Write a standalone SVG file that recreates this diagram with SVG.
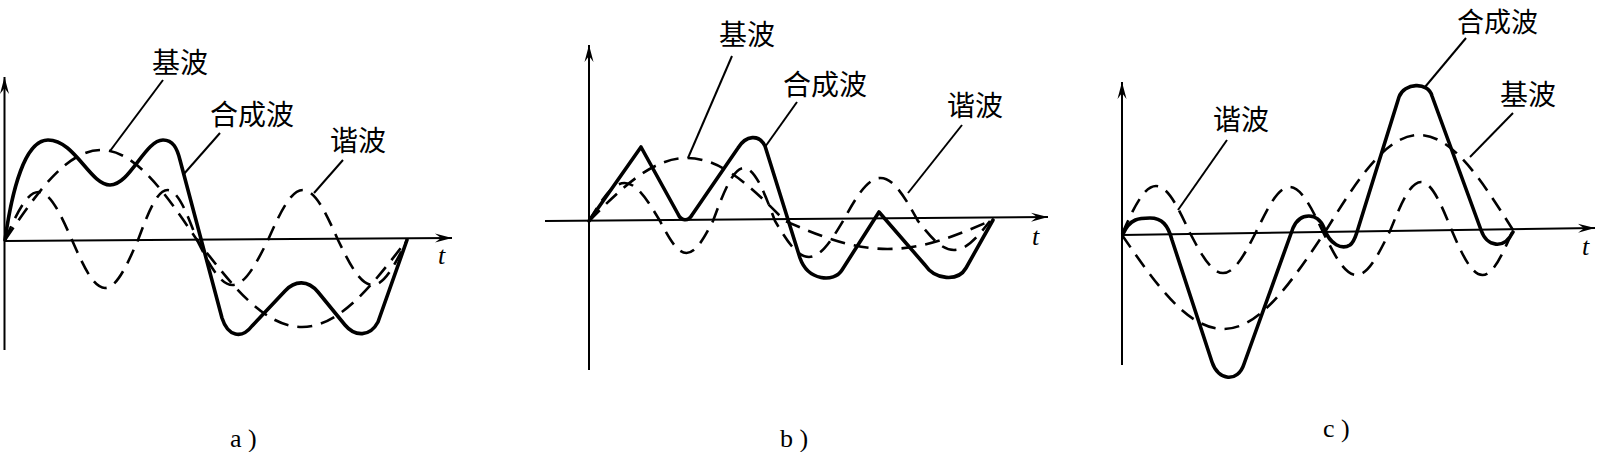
<svg xmlns="http://www.w3.org/2000/svg" width="1605" height="452" viewBox="0 0 1605 452">
<defs>
<marker id="arr" markerUnits="userSpaceOnUse" markerWidth="20" markerHeight="12" viewBox="-18 -6 20 12" refX="0" refY="0" orient="auto">
<path d="M0,0 L-17,-4.5 L-11,0 L-17,4.5 Z" fill="#000"/>
</marker>
</defs>
<style>
.ax{stroke:#000;stroke-width:2;fill:none}
.cw{stroke:#000;stroke-width:3.6;fill:none;stroke-linejoin:round;stroke-linecap:round}
.dw{stroke:#000;stroke-width:2.6;fill:none;stroke-dasharray:15 9}
.ld{stroke:#000;stroke-width:2;fill:none}
.cj{font-family:"Noto Sans CJK SC","Noto Sans CJK JP",sans-serif;font-size:28px;fill:#000}
.tt{font-family:"Liberation Serif",serif;font-style:italic;font-size:26px;fill:#000}
.lb{font-family:"Liberation Serif",serif;font-size:26px;fill:#000}
</style>
<rect width="1605" height="452" fill="#fff"/>

<g id="panel-a">
<g id="a-axes">
<line class="ax" x1="4.5" y1="350" x2="4.5" y2="77" marker-end="url(#arr)"/>
<line class="ax" x1="4" y1="241" x2="452" y2="238" marker-end="url(#arr)"/>
<text class="tt" x="438" y="264">t</text>
</g>
<g id="a-fundamental">
<path class="dw" d="M5,240 C36.3,193.9 66.3,150 101,150 C135.7,150 165.7,193.9 197,240 C231.2,284.6 264,327 302,327 C340,327 372.8,284.6 407,240"/>
</g>
<g id="a-harmonic">
<path class="dw" d="M5,240 C15.9,215.4 26.4,192 38.5,192 C50.6,192 61.1,215.4 72,240 C82.8,264.6 93.1,288 105,288 C116.9,288 127.2,264.6 138,240 C147.6,214.4 156.8,190 167.5,190 C178.2,190 187.4,214.4 197,240 C208.6,263.1 219.7,285 232.5,285 C245.3,285 256.4,263.1 268,240 C279.4,214.4 290.3,190 303,190 C315.7,190 326.6,214.4 338,240 C349.3,263.1 360,285 372.5,285 C385,285 395.7,263.1 407,240"/>
</g>
<g id="a-composite">
<path class="cw" d="M5,240 C12,190 25,140 48,140 C75,140 90,185 110,185 C130,185 145,140 163,140 C173,140 177,148 180,160 L222,318 C228,337 242,339 252,326 L285,291 C295,280 308,280 318,292 L345,325 C355,337 370,337 378,322 L407,240"/>
</g>
<g id="a-labels">
<line class="ld" x1="163" y1="80" x2="110" y2="151"/>
<text class="cj" x="152" y="73">基波</text>
<line class="ld" x1="220" y1="133" x2="183" y2="175"/>
<text class="cj" x="210" y="125">合成波</text>
<line class="ld" x1="343" y1="160" x2="314" y2="193"/>
<text class="cj" x="330" y="151">谐波</text>
</g>
<text class="lb" x="230" y="447">a )</text>
</g>

<g id="panel-b">
<g id="b-axes">
<line class="ax" x1="589" y1="370" x2="589" y2="45" marker-end="url(#arr)"/>
<line class="ax" x1="545" y1="221" x2="1048" y2="217" marker-end="url(#arr)"/>
<text class="tt" x="1032" y="245">t</text>
</g>
<g id="b-fundamental">
<path class="dw" d="M589,221 C621,188.7 651.5,158 687,158 C722.5,158 753,188.7 785,221 C818.4,235.3 850.4,249 887.5,249 C924.6,249 956.6,235.3 990,221"/>
</g>
<g id="b-harmonic">
<path class="dw" d="M589,221 C600.6,201.5 611.7,183 624.5,183 C637.3,183 648.4,201.5 660,221 C668.6,237.4 676.9,253 686.5,253 C696.1,253 704.4,237.4 713,221 C723.1,193.8 732.8,168 744,168 C755.2,168 764.9,193.8 775,221 C786.1,239.4 796.7,257 809,257 C821.3,257 831.9,239.4 843,221 C855.2,199 866.9,178 880.5,178 C894.1,178 905.8,199 918,221 C929.7,235.9 941,250 954,250 C967,250 978.3,235.9 990,221"/>
</g>
<g id="b-composite">
<path class="cw" d="M589,221 L641,147 L678,214 C681,221 688,222 692,215 L738,148 C746,135 759,134 765,146 L800,258 C808,281 834,283 842,270 L879,212 L925,265 C935,280 958,282 966,268 L993,220"/>
</g>
<g id="b-labels">
<line class="ld" x1="732" y1="56" x2="688" y2="158"/>
<text class="cj" x="719" y="45">基波</text>
<line class="ld" x1="797" y1="102" x2="765" y2="147"/>
<text class="cj" x="783" y="95">合成波</text>
<line class="ld" x1="962" y1="125" x2="908" y2="193"/>
<text class="cj" x="947" y="116">谐波</text>
</g>
<text class="lb" x="780" y="447">b )</text>
</g>

<g id="panel-c">
<g id="c-axes">
<line class="ax" x1="1122" y1="365" x2="1122" y2="82" marker-end="url(#arr)"/>
<line class="ax" x1="1122" y1="235" x2="1595" y2="228" marker-end="url(#arr)"/>
<text class="tt" x="1582" y="255">t</text>
</g>
<g id="c-fundamental">
<path class="dw" d="M1122,235 C1155.1,283 1186.8,329 1223.5,329 C1260.2,329 1291.9,281 1325,232 C1355.7,182.5 1385,135 1419,135 C1453,135 1482.3,181.5 1513,230"/>
</g>
<g id="c-harmonic">
<path class="dw" d="M1122,234 C1133.1,209.4 1143.7,186 1156,186 C1168.3,186 1178.9,209.4 1190,233 C1200.8,253.5 1211.1,273 1223,273 C1234.9,273 1245.2,253.5 1256,232 C1266.9,210 1277.4,187 1289.5,187 C1301.6,187 1312.1,209 1323,232 C1333.9,254 1344.4,275 1356.5,275 C1368.6,275 1379.1,253 1390,231 C1400.1,206 1409.8,182 1421,182 C1432.2,182 1441.9,206 1452,231 C1461.9,254 1471.5,275 1482.5,275 C1493.5,275 1503.1,253 1513,230"/>
</g>
<g id="c-composite">
<path class="cw" d="M1123,234 C1130,218 1140,218 1150,218 C1162,218 1168,225 1172,240 L1212,362 C1218,381 1238,383 1244,364 L1293,228 C1300,212 1318,212 1324,228 C1330,245 1342,250 1350,245 C1354,242 1355,238 1357,232 L1399,97 C1404,83 1428,81 1432,96 L1481,230 C1487,247 1504,250 1513,232"/>
</g>
<g id="c-labels">
<line class="ld" x1="1466" y1="38" x2="1425" y2="87"/>
<text class="cj" x="1457" y="32" style="font-size:27px">合成波</text>
<line class="ld" x1="1513" y1="113" x2="1470" y2="157"/>
<text class="cj" x="1500" y="105">基波</text>
<line class="ld" x1="1227" y1="140" x2="1178" y2="210"/>
<text class="cj" x="1213" y="130">谐波</text>
</g>
<text class="lb" x="1323" y="437">c )</text>
</g>
</svg>
